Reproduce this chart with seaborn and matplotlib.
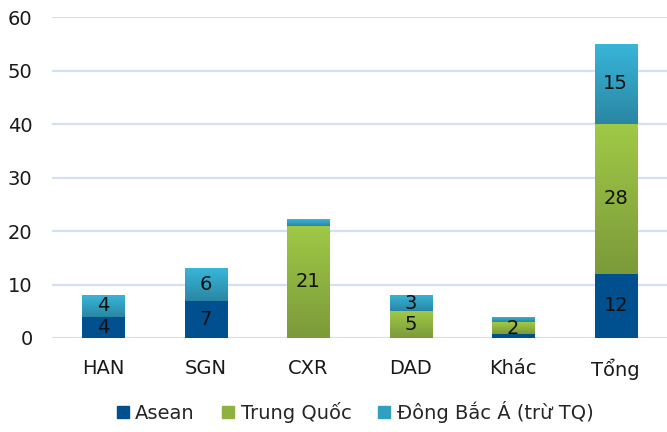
import numpy as np
import pandas as pd
import seaborn as sns
import matplotlib.pyplot as plt
from matplotlib.colors import LinearSegmentedColormap
from matplotlib.lines import Line2D

airports = ['HAN', 'SGN', 'CXR', 'DAD', 'Khác', 'Tổng']
asean = [4, 7, 0, 0, 0.8, 12]
trung_quoc = [0, 0, 21, 5, 2.1, 28]
dong_bac_a = [4, 6, 1.2, 3, 1.1, 15]
series_names = ['Asean', 'Trung Quốc', 'Đông Bắc Á (trừ TQ)']
y_ticks = [0, 10, 20, 30, 40, 50, 60]

df = pd.DataFrame({'airport': airports, 'asean': asean,
                   'tq': trung_quoc, 'dba': dong_bac_a})
df['c1'] = df['asean']
df['c2'] = df['c1'] + df['tq']
df['c3'] = df['c2'] + df['dba']
df['c0'] = 0.0

sns.set_theme(style='white')
plt.rcParams['font.family'] = ['DejaVu Sans']

fig, ax = plt.subplots(figsize=(6.67, 4.32), dpi=100)
fig.subplots_adjust(left=0.078, right=1.0, bottom=0.2176, top=0.9606)

# (top col, bottom col, value col, (top colour, bottom colour))
layers = [
    ('c3', 'c2', 'dba', ('#38B6DA', '#2A86A3')),
    ('c2', 'c1', 'tq', ('#A0C946', '#7B9A3A')),
    ('c1', 'c0', 'asean', ('#00508F', '#00508F')),
]

grad = np.linspace(0, 1, 256).reshape(-1, 1)
for i, (top_col, bot_col, val_col, (c_top, c_bot)) in enumerate(layers):
    z = 2 + i
    sns.barplot(data=df, x='airport', y=top_col, color=c_bot, width=0.41,
                saturation=1, ax=ax, zorder=z, linewidth=0)
    cont = ax.containers[-1]
    cmap = LinearSegmentedColormap.from_list(val_col, [c_bot, c_top])
    for patch, lo, v in zip(cont.patches, df[bot_col], df[val_col]):
        patch.set_edgecolor('none')
        if v <= 0:
            continue
        x0 = patch.get_x()
        w = patch.get_width()
        hi = patch.get_height()
        im = ax.imshow(grad, cmap=cmap, origin='lower', aspect='auto',
                       extent=[x0, x0 + w, lo, hi], zorder=z + 0.01)
        im.set_clip_path(patch)
        if v >= 1.5:
            ax.text(x0 + w / 2, (lo + hi) / 2, f'{v:.0f}', ha='center',
                    va='center', fontsize=14, color='#111111', zorder=10)

ax.set_xlim(-0.5, len(airports) - 0.5)
ax.set_ylim(0, 60)
ax.set_yticks(y_ticks)
ax.set_xlabel('')
ax.set_ylabel('')
ax.yaxis.grid(True, color='#D3E0F3', linewidth=1.6)
ax.set_axisbelow(True)
sns.despine(ax=ax, left=True, bottom=True)
ax.tick_params(axis='y', length=0, pad=14, labelsize=14, labelcolor='#1a1a1a')
ax.tick_params(axis='x', length=0, pad=15, labelsize=14, labelcolor='#1a1a1a')

handles = [Line2D([], [], marker='s', linestyle='none', markersize=9,
                  markerfacecolor=c, markeredgecolor=c)
           for c in ['#00508F', '#8DB240', '#30A0C2']]
fig.legend(handles, series_names, loc='center', bbox_to_anchor=(0.532, 0.046),
           ncol=3, frameon=False, fontsize=14, handlelength=0.7,
           handletextpad=0.3, columnspacing=1.35)

fig.savefig('out.png', dpi=100)
